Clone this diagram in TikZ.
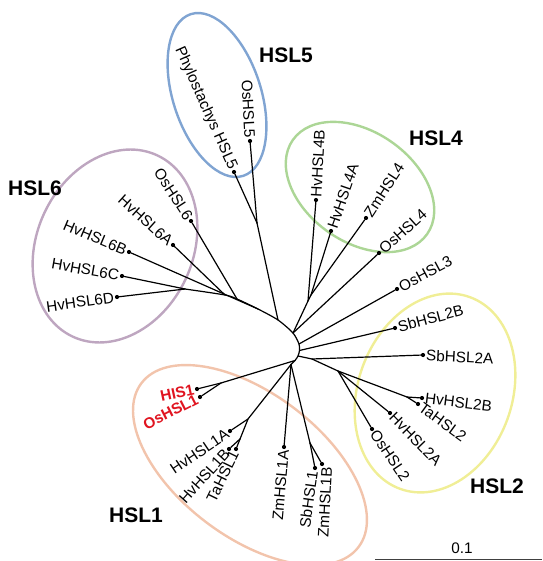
\documentclass[tikz,border=0pt]{standalone}
\usepackage{fontspec}
\setmainfont{Liberation Sans}
\definecolor{cBlue}{RGB}{128,164,210}
\definecolor{cGreen}{RGB}{172,214,150}
\definecolor{cMauve}{RGB}{190,166,192}
\definecolor{cYellow}{RGB}{240,238,150}
\definecolor{cSalmon}{RGB}{242,196,172}
\definecolor{cRed}{RGB}{224,20,32}
\begin{document}
\begin{tikzpicture}[x=1pt,y=-1pt,
  br/.style={line width=1.2pt, black, line cap=round},
  leafdot/.style={circle, fill=black, inner sep=0pt, minimum size=4.2pt},
  lab/.style={font=\fontsize{15.3}{18}\selectfont, inner sep=3pt},
  labr/.style={lab, font=\fontsize{15.3}{18}\selectfont\bfseries, text=cRed},
  grp/.style={font=\fontsize{21}{24}\selectfont\bfseries, inner sep=0pt},
  clade/.style={line width=2.4pt}
]
\useasboundingbox (0,0) rectangle (542,561);

% ---------- clade ellipses ----------
\coordinate (e5) at (217,95);
\coordinate (e4) at (360,187);
\coordinate (e6) at (115,246);
\coordinate (e2) at (435,393);
\coordinate (e1) at (250,465);
\draw[clade, cBlue, rotate around={108:(e5)}] (e5) ellipse [x radius=85pt, y radius=44pt];
\draw[clade, cGreen, rotate around={-35:(e4)}] (e4) ellipse [x radius=82pt, y radius=55pt];
\draw[clade, cMauve, rotate around={65:(e6)}] (e6) ellipse [x radius=100pt, y radius=78pt];
\draw[clade, cYellow, rotate around={70:(e2)}] (e2) ellipse [x radius=102pt, y radius=77pt];
\draw[clade, cSalmon, rotate around={-37:(e1)}] (e1) ellipse [x radius=136pt, y radius=72pt];

% ---------- internal nodes ----------
\coordinate (cd)  at (185,289);
\coordinate (j6a) at (225,295);
\coordinate (j6)  at (237,299);
\coordinate (j6b) at (258,309);
\coordinate (jb)  at (278,320);
\coordinate (ja)  at (293,333);
\coordinate (a3)  at (299,344);
\coordinate (a4)  at (299.5,350.5);
\coordinate (a5)  at (298,356);
\coordinate (a6)  at (295,360.5);
\coordinate (a7)  at (291,364.5);
\coordinate (j5)  at (257,223);
\coordinate (j4)  at (308,301);
\coordinate (jz)  at (311,295);
\coordinate (j2a) at (312,359);
\coordinate (j2b) at (338,371);
\coordinate (j2c) at (407,397);
\coordinate (j1a) at (221,383);
\coordinate (j1b) at (248,419);
\coordinate (j1c) at (240,439);
\coordinate (j1d) at (310,443);

% ---------- leaves ----------
\node[leafdot] (osHSL5) at (250,141) {};
\node[leafdot] (phHSL5) at (234,172) {};
\node[leafdot] (osHSL6) at (191,221) {};
\node[leafdot] (hv6A) at (173,245) {};
\node[leafdot] (hv6B) at (129,252) {};
\node[leafdot] (hv6C) at (122,276) {};
\node[leafdot] (hv6D) at (117,297) {};
\node[leafdot] (hv4B) at (316,200) {};
\node[leafdot] (hv4A) at (331,231) {};
\node[leafdot] (zm4) at (366,218) {};
\node[leafdot] (os4) at (379,253) {};
\node[leafdot] (os3) at (397,289) {};
\node[leafdot] (sb2B) at (395,328) {};
\node[leafdot] (sb2A) at (423,355) {};
\node[leafdot] (hv2B) at (422,398) {};
\node[leafdot] (ta2) at (418,404) {};
\node[leafdot] (hv2A) at (390,413) {};
\node[leafdot] (os2) at (372,429) {};
\node[leafdot] (his1) at (197,389) {};
\node[leafdot] (os1) at (200,397) {};
\node[leafdot] (hv1A) at (230,431) {};
\node[leafdot] (hv1B) at (229,449) {};
\node[leafdot] (ta1) at (236,449) {};
\node[leafdot] (zm1A) at (284,447) {};
\node[leafdot] (sb1) at (315,468) {};
\node[leafdot] (zm1B) at (322,464) {};

% ---------- branches ----------
\draw[br] plot[smooth, tension=0.45] coordinates {(cd) (j6a) (j6) (j6b) (jb) (ja) (a3) (a4) (a5) (a6) (a7)};
\draw[br] (jb) -- (j5);
\draw[br] (j5) -- (osHSL5);
\draw[br] (j5) -- (phHSL5);
\draw[br] (j6) -- (osHSL6);
\draw[br] (j6a) -- (hv6A);
\draw[br] (j6b) -- (hv6B);
\draw[br] (cd) -- (hv6C);
\draw[br] (cd) -- (hv6D);
\draw[br] (ja) -- (j4) -- (jz);
\draw[br] (j4) -- (hv4B);
\draw[br] (jz) -- (hv4A);
\draw[br] (jz) -- (zm4);
\draw[br] (ja) -- (os4);
\draw[br] (a3) -- (os3);
\draw[br] (a4) -- (sb2B);
\draw[br] (a5) -- (j2a) -- (j2b) -- (j2c);
\draw[br] (j2a) -- (sb2A);
\draw[br] (j2c) -- (hv2B);
\draw[br] (j2c) -- (ta2);
\draw[br] (j2b) -- (hv2A);
\draw[br] (j2b) -- (os2);
\draw[br] (a6) -- (j1a);
\draw[br] (j1a) -- (his1);
\draw[br] (j1a) -- (os1);
\draw[br] (a7) -- (j1b) -- (j1c);
\draw[br] (j1b) -- (hv1A);
\draw[br] (j1c) -- (hv1B);
\draw[br] (j1c) -- (ta1);
\draw[br] (a7) -- (zm1A);
\draw[br] (a7) -- (j1d);
\draw[br] (j1d) -- (sb1);
\draw[br] (j1d) -- (zm1B);

% ---------- leaf labels ----------
\node[lab, anchor=east, rotate=-87] (t1) at (osHSL5) {OsHSL5};
\node[lab, anchor=east, rotate=-66] (t2) at (phHSL5) {Phylostachys HSL5};
\node[lab, anchor=east, rotate=-57] (t3) at (osHSL6) {OsHSL6};
\node[lab, anchor=east, rotate=-42] (t4) at (hv6A) {HvHSL6A};
\node[lab, anchor=east, rotate=-23] (t5) at (hv6B) {HvHSL6B};
\node[lab, anchor=east, rotate=-10] (t6) at (hv6C) {HvHSL6C};
\node[lab, anchor=east, rotate=8] (t7) at (hv6D) {HvHSL6D};
\node[lab, anchor=west, rotate=87] (t8) at (hv4B) {HvHSL4B};
\node[lab, anchor=west, rotate=71] (t9) at (hv4A) {HvHSL4A};
\node[lab, anchor=west, rotate=57] (t10) at (zm4) {ZmHSL4};
\node[lab, anchor=west, rotate=42] (t11) at (os4) {OsHSL4};
\node[lab, anchor=west, rotate=28] (t12) at (os3) {OsHSL3};
\node[lab, anchor=west, rotate=15] (t13) at (sb2B) {SbHSL2B};
\node[lab, anchor=west, rotate=-3] (t14) at (sb2A) {SbHSL2A};
\node[lab, anchor=west, rotate=-7] (t15) at (hv2B) {HvHSL2B};
\node[lab, anchor=west, rotate=-36] (t16) at (ta2) {TaHSL2};
\node[lab, anchor=west, rotate=-46] (t17) at (hv2A) {HvHSL2A};
\node[lab, anchor=west, rotate=-56] (t18) at (os2) {OsHSL2};
\node[labr, anchor=east, rotate=12] (t19) at (his1) {HIS1};
\node[labr, anchor=east, rotate=27] (t20) at (os1) {OsHSL1};
\node[lab, anchor=east, rotate=34] (t21) at (hv1A) {HvHSL1A};
\node[lab, anchor=east, rotate=48] (t22) at (hv1B) {HvHSL1B};
\node[lab, anchor=east, rotate=64] (t23) at (ta1) {TaHSL1};
\node[lab, anchor=east, rotate=85] (t24) at (zm1A) {ZmHSL1A};
\node[lab, anchor=east, rotate=82] (t25) at ([xshift=-2pt]sb1) {SbHSL1};
\node[lab, anchor=east, rotate=87] (t26) at ([xshift=5pt]zm1B) {ZmHSL1B};

% ---------- clade labels ----------
\node[grp] (g5) at (286,55) {HSL5};
\node[grp] (g4) at (436,138) {HSL4};
\node[grp] (g6) at (35,188) {HSL6};
\node[grp] (g2) at (497,486) {HSL2};
\node[grp] (g1) at (136,515) {HSL1};

% ---------- scale bar ----------
\coordinate (sbA) at (375,559.5);
\coordinate (sbB) at (542,559.5);
\draw[line width=1.5pt, black!75] (sbA) -- (sbB);
\node[lab, inner sep=0pt] (sbl) at (462,548) {0.1};
\end{tikzpicture}
\end{document}
